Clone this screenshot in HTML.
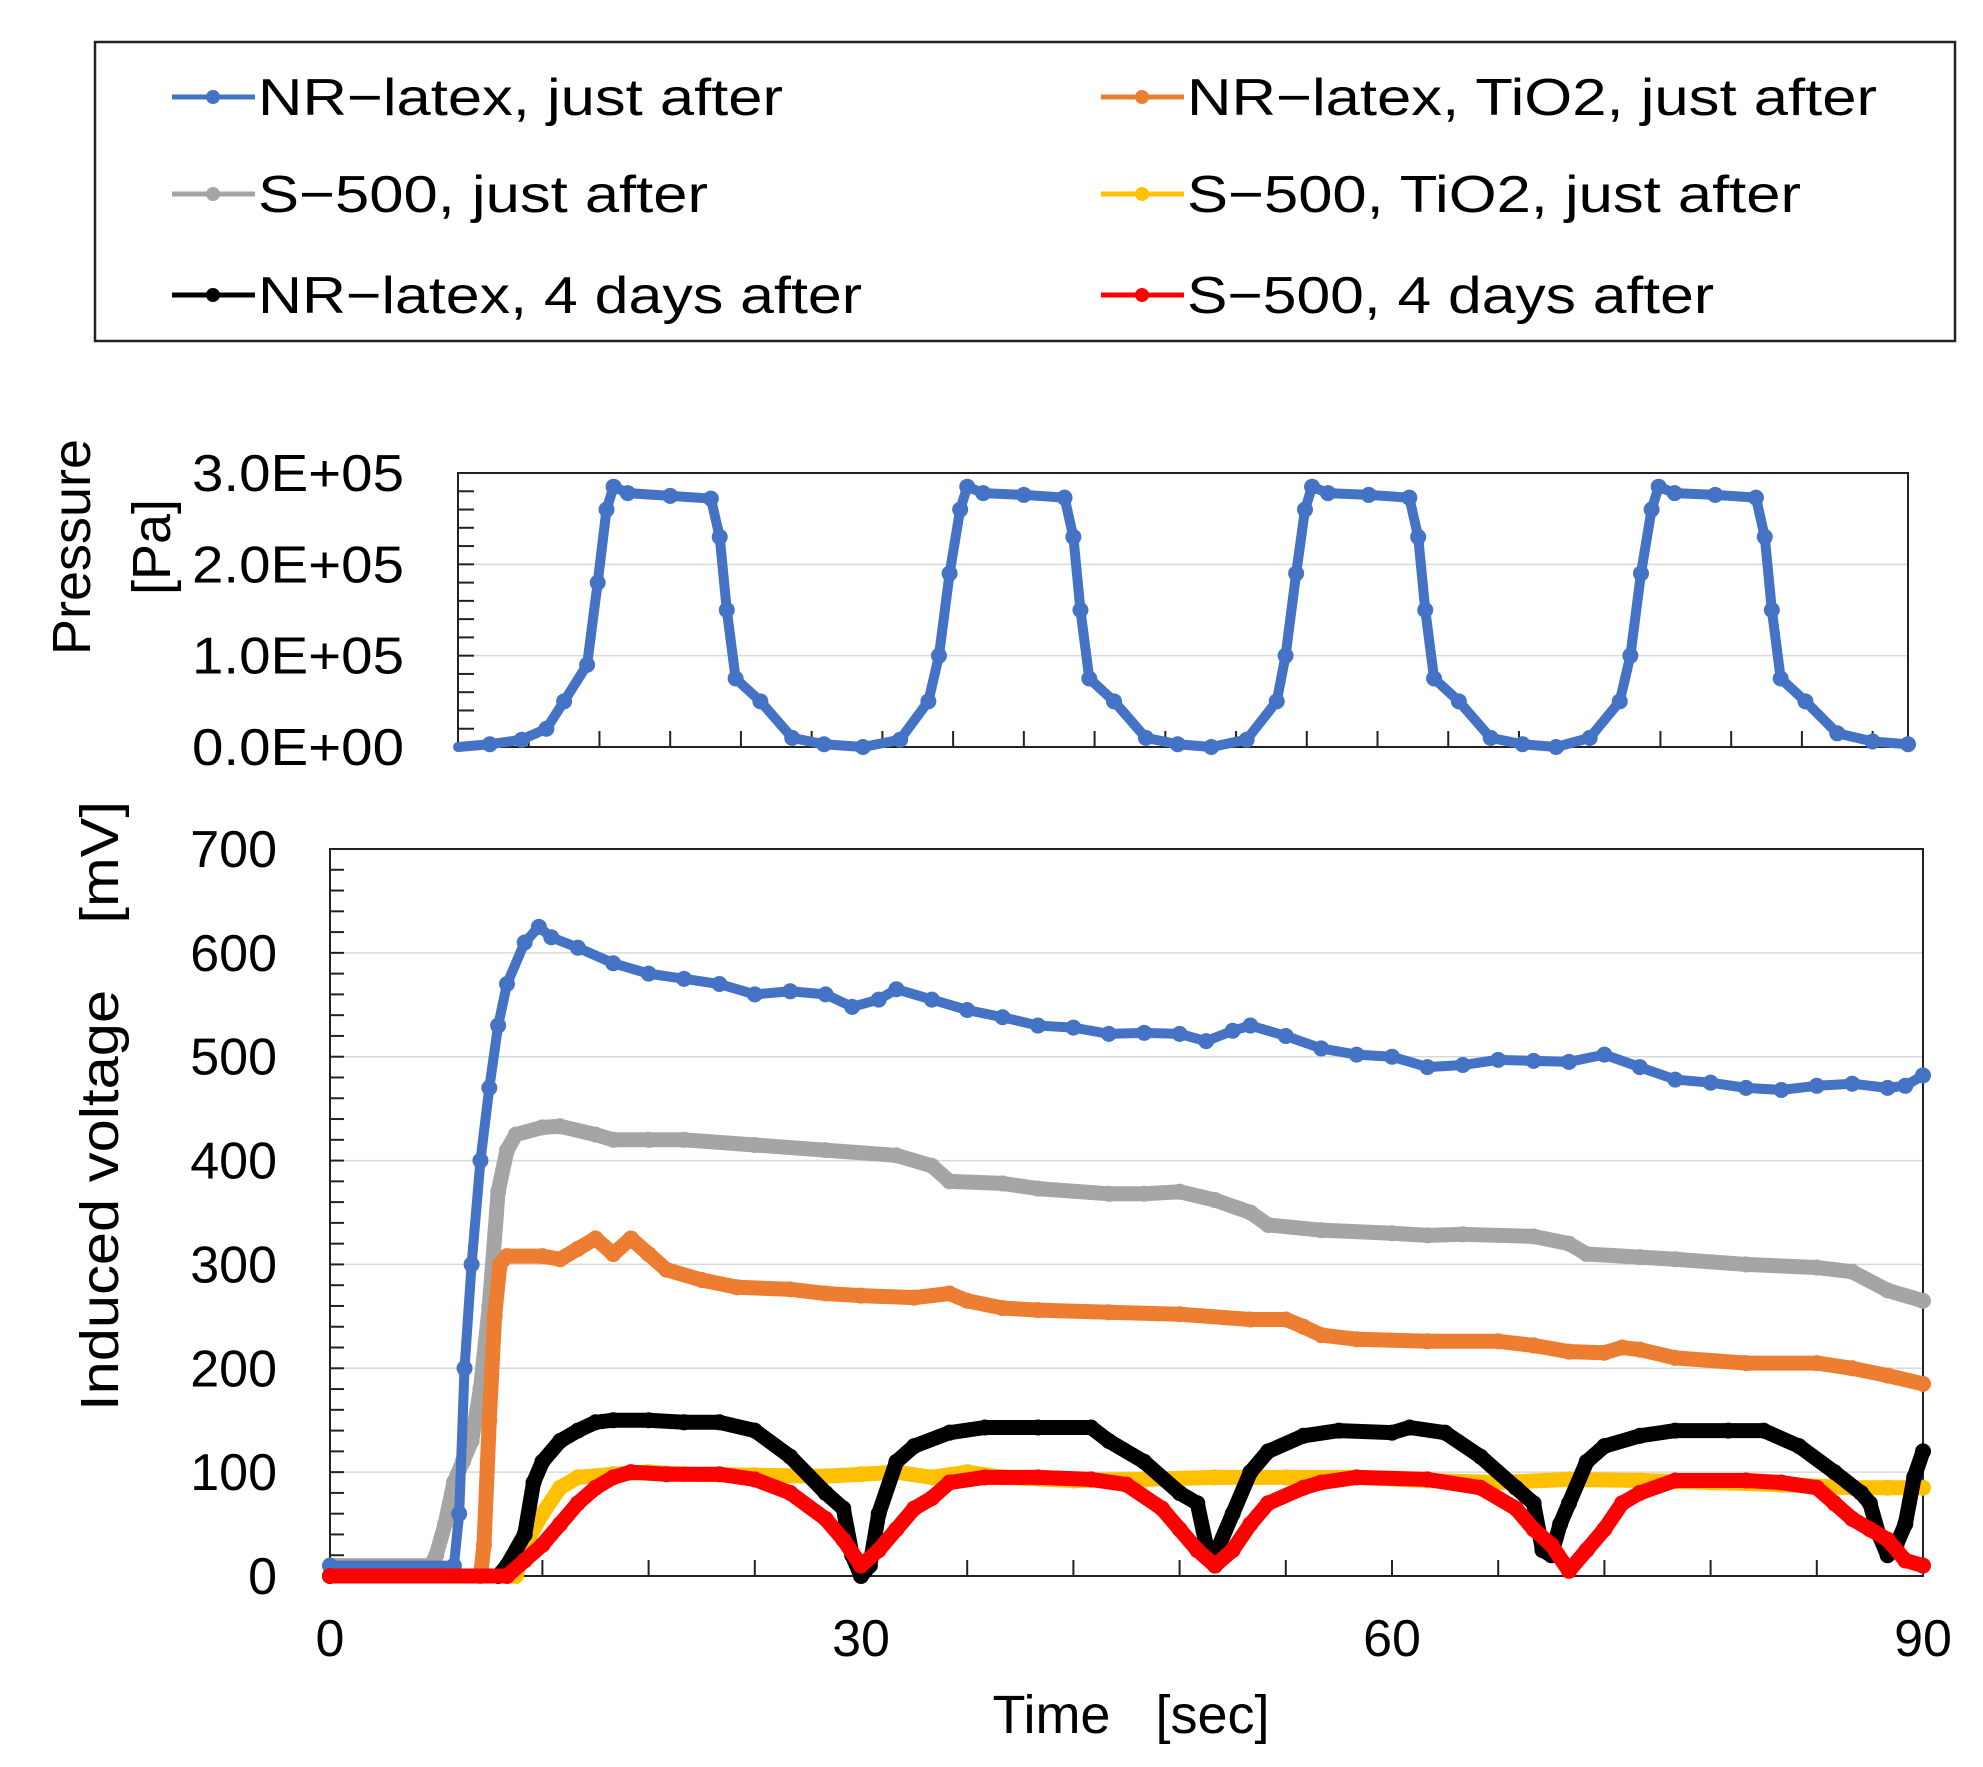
<!DOCTYPE html>
<html><head><meta charset="utf-8"><style>
html,body{margin:0;padding:0;background:#fff;}
svg{display:block;font-family:"Liberation Sans",sans-serif;}
</style></head><body>
<svg id="chart" width="1983" height="1767" viewBox="0 0 1983 1767" xmlns="http://www.w3.org/2000/svg">
<g id="legend"></g>
<g id="pressure"></g>
<g id="voltage"></g>
</svg>
<script>
// ---- pressure data (time in pressure-axis seconds, value in 1e5 Pa)
const pT = [0,1.8,3.6,5,6,7.3,7.9,8.4,8.8,9.6,12,14.3,14.8,15.2,15.7,17.1,18.9,20.7,22.9,25,
  26.6,27.2,27.8,28.4,28.8,29.7,32,34.3,34.8,35.2,35.7,37.1,38.9,40.7,42.6,44.6,
  46.3,46.8,47.4,47.9,48.3,49.2,51.5,53.8,54.3,54.7,55.2,56.6,58.4,60.2,62.1,64,
  65.7,66.3,66.9,67.5,67.9,68.8,71.1,73.4,73.9,74.3,74.8,76.2,78,80,82];
const pV = [0,0.03,0.08,0.2,0.5,0.9,1.8,2.6,2.85,2.78,2.75,2.72,2.3,1.5,0.75,0.5,0.1,0.03,0,0.08,
  0.5,1.0,1.9,2.6,2.85,2.78,2.76,2.73,2.3,1.5,0.75,0.5,0.1,0.03,0,0.08,
  0.5,1.0,1.9,2.6,2.85,2.78,2.76,2.73,2.3,1.5,0.75,0.5,0.1,0.03,0,0.1,
  0.5,1.0,1.9,2.6,2.85,2.78,2.76,2.73,2.3,1.5,0.75,0.5,0.15,0.06,0.03];
const pTicks = ["0.0E+00","1.0E+05","2.0E+05","3.0E+05"];

// ---- voltage data
const xTickLabels = ["0","30","60","90"];
const yTickLabels = ["0","100","200","300","400","500","600","700"];
const blueT=[0,7,7.3,7.6,8,8.5,9,9.5,10,11,11.8,12.5,14,16,18,20,22,24,26,28,29.5,31,32,34,36,38,40,42,44,46,48,49.5,51,52,54,56,58,60,62,64,66,68,70,72,74,76,78,80,82,84,86,88,89,90];
const blueV=[10,10,60,200,300,400,470,530,570,610,625,615,605,590,580,575,570,560,563,560,548,555,565,555,545,538,530,528,522,523,522,515,525,530,520,508,502,500,490,492,497,496,495,502,490,478,475,470,468,472,474,470,472,482];
const grayT=[0,5.7,6,6.5,7,7.5,8,8.5,9,9.5,10,10.5,12,13,15,16,18,20,24,28,32,34,35,38,40,44,46,48,50,52,53,56,60,62,64,68,70,71,74,76,80,84,86,88,90];
const grayV=[10,10,20,50,90,110,130,180,260,370,410,425,432,433,425,420,420,420,415,410,405,395,380,378,373,368,368,370,362,350,338,333,330,328,329,327,320,310,307,305,300,297,293,275,265];
const orangeT=[0,8.5,8.7,9,9.3,9.6,10,12,13,14,15,16,17,18,19,21,23,26,28,30,33,35,36,38,40,44,48,52,54,55,56,58,62,66,68,70,72,73,74,76,80,84,86,88,90];
const orangeV=[0,0,30,150,250,300,308,308,305,315,325,310,325,310,295,285,278,276,272,270,268,272,265,258,256,254,252,247,247,240,232,228,226,226,222,216,215,220,218,210,205,205,200,193,185];
const yellowT=[0,10.5,11,12,13,14,16,18,20,24,28,30,32,34,36,38,42,46,50,54,58,62,66,70,74,78,82,86,88,90];
const yellowV=[0,0,30,60,85,95,98,100,98,97,96,98,100,95,100,95,92,93,95,95,95,92,90,93,92,90,88,85,85,85];
const blackT=[0,9.5,10,11,11.5,12,13,14,15,16,18,20,22,24,26,28,29,29.5,30,30.5,31,32,33,35,37,40,43,44,46,48,49,49.5,50,51,52,53,55,57,60,61,63,65,67,68,68.5,69,69.5,70,71,72,74,76,79,81,83,85,86.5,87,87.5,88,88.5,89,89.5,90];
const blackV=[0,0,10,40,90,110,130,140,148,150,150,148,148,140,115,80,65,20,0,10,60,110,125,138,143,143,143,130,110,80,70,30,20,60,100,120,135,140,138,143,138,115,85,70,25,20,50,70,110,125,135,140,140,140,125,100,80,70,40,20,30,50,95,120];
const redT=[0,10,11,12,13,14,15,16,17,19,22,24,26,28,29,30,31,32,33,34,35,37,40,43,45,47,48,49,50,51,52,53,55,56,58,62,65,67,68,69,70,71,72,73,74,76,80,82,84,85,86,87,88,89,90];
const redV=[0,0,15,30,50,70,85,95,100,98,98,93,80,55,35,10,25,45,65,75,90,95,95,93,88,65,45,25,10,25,50,70,85,90,95,93,85,65,45,30,5,25,45,70,80,92,92,90,85,70,55,45,35,15,10];

const NS="http://www.w3.org/2000/svg";
function mk(tag,attrs,parent){const e=document.createElementNS(NS,tag);for(const k in attrs)e.setAttribute(k,attrs[k]);parent.appendChild(e);return e;}

// ---- legend
const leg=document.getElementById('legend');
const box=mk('rect',{x:95,y:42,width:1860,height:299,fill:'#fff',stroke:'#222','stroke-width':2.5},leg);


const legItems=[
 ["NR\u2212latex, just after","#4472C4",172,97,525],
 ["NR\u2212latex, TiO2, just after","#ED7D31",1101,97,690],
 ["S\u2212500, just after","#A5A5A5",172,194,450],
 ["S\u2212500, TiO2, just after","#FFC000",1101,194,614],
 ["NR\u2212latex, 4 days after","#000000",172,295,604],
 ["S\u2212500, 4 days after","#FF0000",1101,295,527]];
legItems.forEach(it=>{
  const g=mk('g',{},leg);
  
  
  mk('line',{x1:it[2],x2:it[2]+83,y1:it[3],y2:it[3],stroke:it[1],'stroke-width':5},g);
  mk('circle',{cx:it[2]+41,cy:it[3],r:7,fill:it[1]},g);
  const t=mk('text',{x:it[2]+86,y:it[3]+18,'font-size':52,fill:'#000',textLength:it[4],lengthAdjust:'spacingAndGlyphs'},g);
  t.textContent=it[0];
});

// ---- pressure panel
const P={l:458,r:1908,t:473,b:747};
const px=t=>P.l+t/82*(P.r-P.l);
const py=v=>P.b-v/3*(P.b-P.t);
const pg=document.getElementById('pressure');
for(let i=1;i<=3;i++){const gl=mk('line',{x1:P.l,x2:P.r,y1:py(i),y2:py(i),stroke:'#d9d9d9','stroke-width':1.5},pg);}
for(let i=0;i<=15;i++){mk('line',{x1:P.l,x2:P.l+16,y1:py(i*0.2),y2:py(i*0.2),stroke:'#222','stroke-width':2},pg);}
for(let t=4;t<82;t+=4){mk('line',{x1:px(t),x2:px(t),y1:P.b,y2:P.b-16,stroke:'#222','stroke-width':2},pg);}
const pf=mk('rect',{x:P.l,y:P.t,width:P.r-P.l,height:P.b-P.t,fill:'none',stroke:'#222','stroke-width':2},pg);


pTicks.forEach((s,i)=>{const t=mk('text',{x:404,y:py(i)+18,'font-size':52,'text-anchor':'end',textLength:212,lengthAdjust:'spacingAndGlyphs'},pg);t.textContent=s;});
const pt1=mk('text',{x:0,y:0,'font-size':54,'text-anchor':'middle',transform:'translate(90,547) rotate(-90)'},pg);pt1.textContent='Pressure';


const pt2=mk('text',{x:0,y:0,'font-size':54,'text-anchor':'middle',transform:'translate(170,547) rotate(-90)'},pg);pt2.textContent='[Pa]';


const pl=mk('polyline',{points:pT.map((t,i)=>px(t)+','+py(pV[i])).join(' '),fill:'none',stroke:'#4472C4','stroke-width':10,'stroke-linejoin':'round','stroke-linecap':'round'},pg);


pT.forEach((t,i)=>{if(i===0)return;const c=mk('circle',{cx:px(t),cy:py(pV[i]),r:8,fill:'#4472C4'},pg);});

// ---- voltage panel
const V={l:330,r:1923,t:849,b:1576};
const vx=t=>V.l+t/90*(V.r-V.l);
const vy=v=>V.b-v/700*(V.b-V.t);
const vg=document.getElementById('voltage');
for(let i=1;i<=6;i++){const gl=mk('line',{x1:V.l,x2:V.r,y1:vy(i*100),y2:vy(i*100),stroke:'#d9d9d9','stroke-width':1.5},vg);}
for(let v=0;v<=700;v+=20){mk('line',{x1:V.l,x2:V.l+14,y1:vy(v),y2:vy(v),stroke:'#222','stroke-width':2},vg);}
for(let t=6;t<90;t+=6){mk('line',{x1:vx(t),x2:vx(t),y1:V.b,y2:V.b-16,stroke:'#222','stroke-width':2},vg);}
const vf=mk('rect',{x:V.l,y:V.t,width:V.r-V.l,height:V.b-V.t,fill:'none',stroke:'#222','stroke-width':2},vg);


yTickLabels.forEach((s,i)=>{const t=mk('text',{x:277,y:vy(i*100)+18,'font-size':52,'text-anchor':'end'},vg);t.textContent=s;});
xTickLabels.forEach((s,i)=>{const t=mk('text',{x:vx(i*30),y:1656,'font-size':52,'text-anchor':'middle'},vg);t.textContent=s;});
const xt=mk('text',{x:1131,y:1733,'font-size':54,'text-anchor':'middle'},vg);xt.textContent='Time\u00a0\u00a0\u00a0[sec]';


const yt=mk('text',{x:0,y:0,'font-size':54,'text-anchor':'middle',transform:'translate(118,1106) rotate(-90)',textLength:610,lengthAdjust:'spacingAndGlyphs'},vg);yt.textContent='Induced voltage\u00a0\u00a0\u00a0\u00a0[mV]';


const series=[[grayT,grayV,'#A5A5A5','series-s500-just-after'],[blueT,blueV,'#4472C4','series-nr-latex-just-after'],[orangeT,orangeV,'#ED7D31','series-nr-latex-tio2'],[yellowT,yellowV,'#FFC000','series-s500-tio2'],[blackT,blackV,'#000000','series-nr-latex-4days'],[redT,redV,'#FF0000','series-s500-4days']];
series.forEach(s=>{
  const g=mk('g',{},vg);
  
  
  const thin=(s[2]==='#4472C4');
  mk('polyline',{points:s[0].map((t,i)=>vx(t)+','+vy(s[1][i])).join(' '),fill:'none',stroke:s[2],'stroke-width':thin?10:15,'stroke-linejoin':'round','stroke-linecap':'round'},g);
  s[0].forEach((t,i)=>{const c=mk('circle',{cx:vx(t),cy:vy(s[1][i]),r:8,fill:s[2]},g);});
});
</script>
</body></html>
